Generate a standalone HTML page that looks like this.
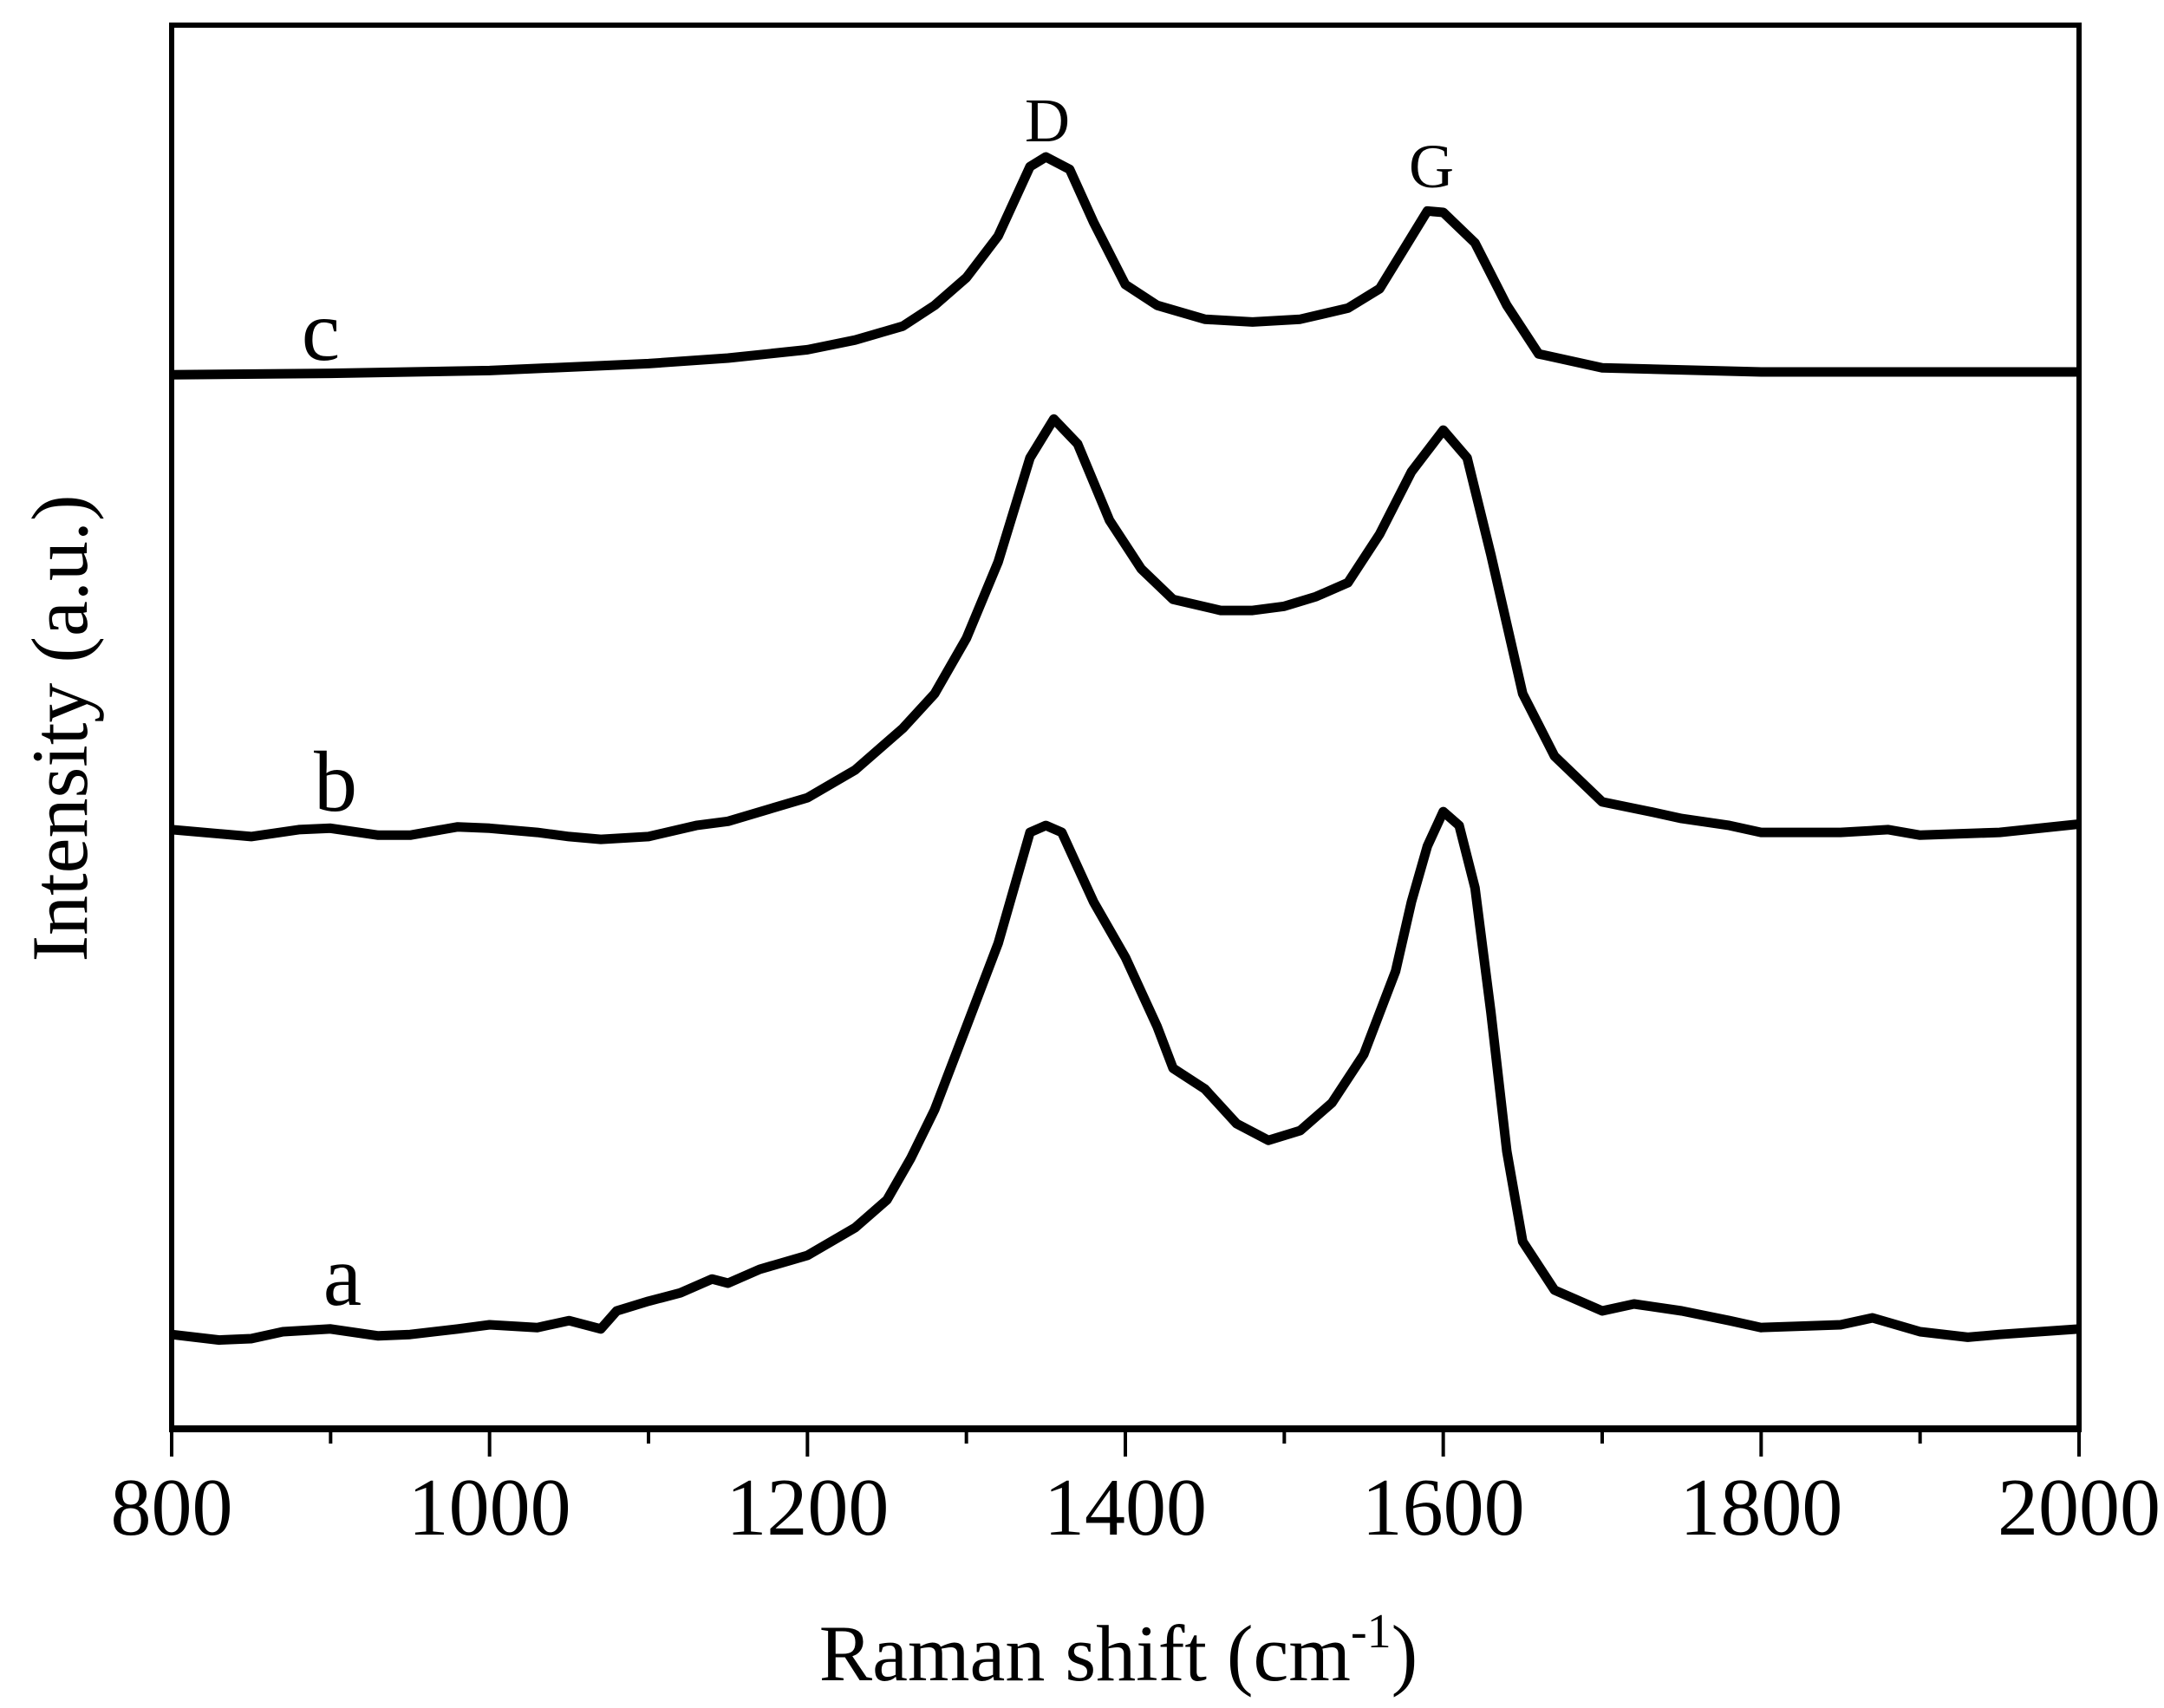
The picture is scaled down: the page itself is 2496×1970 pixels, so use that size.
<!DOCTYPE html>
<html><head><meta charset="utf-8"><style>
html,body{margin:0;padding:0;background:#fff}
svg{display:block}
text{font-family:"Liberation Serif",serif;fill:#000}
</style></head><body>
<svg id="chart" width="2496" height="1970" viewBox="0 0 2496 1970" xmlns="http://www.w3.org/2000/svg">
<g id="plot"></g>
</svg>
<script>
const xTicks=[800,1000,1200,1400,1600,1800,2000];
const xMinor=[900,1100,1300,1500,1700,1900];
const waveA=[800,830,850,870,900,930,950,980,1000,1030,1050,1070,1080,1100,1120,1140,1150,1170,1200,1230,1250,1265,1280,1300,1320,1340,1350,1360,1380,1400,1420,1430,1450,1470,1490,1510,1530,1550,1570,1580,1590,1600,1610,1620,1630,1640,1650,1670,1700,1720,1750,1780,1800,1850,1870,1900,1930,1950,2000];
const yA=[962,966,965,960,958,963,962,958,955,957,952,958,945,938,932,922,925,915,905,885,865,835,800,740,680,600,595,600,650,690,740,770,785,810,822,815,795,760,700,650,610,585,595,640,730,830,895,930,945,940,945,952,957,955,950,960,964,962,958];
const waveB=[800,830,850,880,900,930,950,980,1000,1030,1050,1070,1100,1130,1150,1200,1230,1260,1280,1300,1320,1340,1355,1370,1390,1410,1430,1460,1480,1500,1520,1540,1560,1580,1600,1615,1630,1650,1670,1700,1730,1750,1780,1800,1850,1880,1900,1950,2000];
const yB=[598,601,603,598,597,602,602,596,597,600,603,605,603,595,592,575,555,525,500,460,405,330,302,320,375,410,432,440,440,437,430,420,385,340,310,330,400,500,545,578,585,590,595,600,600,598,602,600,594];
const waveC=[800,900,1000,1100,1150,1200,1230,1260,1280,1300,1320,1340,1350,1365,1380,1400,1420,1450,1480,1510,1540,1560,1575,1590,1600,1620,1640,1660,1700,1800,2000];
const yC=[270,269,267,262,258,252,245,235,220,200,170,120,113,122,160,205,220,230,232,230,222,208,180,152,153,175,220,255,265,268,268];
const intensityA=yA.map(v=>1030-v), intensityB=yB.map(v=>1030-v), intensityC=yC.map(v=>1030-v);
const X0=198,X1=2398,Y0=1648,Y1=29;
const sx=v=>X0+(v-800)/1200*(X1-X0);
const sy=v=>Y0-v/1012*(Y0-Y1);
const NS="http://www.w3.org/2000/svg";
const g=document.getElementById('plot');
function mk(tag,attrs){const e=document.createElementNS(NS,tag);for(const k in attrs)e.setAttribute(k,attrs[k]);g.appendChild(e);return e;}
function series(w,ys,name){
  const d=w.map((v,i)=>(i?'L':'M')+sx(v).toFixed(1)+','+sy(ys[i]).toFixed(1)).join(' ');
  const p=mk('path',{d:d,fill:'none',stroke:'#000','stroke-width':11,'stroke-linejoin':'round'});
  
  
}
series(waveA,intensityA,'spectrum-a');
series(waveB,intensityB,'spectrum-b');
series(waveC,intensityC,'spectrum-c');
const fr=mk('path',{d:`M${X0},${Y0} L${X0},${Y1} L${X1},${Y1} L${X1},${Y0}`,fill:'none',stroke:'#000','stroke-width':6});


const xa=mk('line',{x1:X0-3,x2:X1+3,y1:Y0,y2:Y0,stroke:'#000','stroke-width':8});


xTicks.forEach(v=>{
  const t=mk('line',{x1:sx(v),x2:sx(v),y1:Y0,y2:Y0+32,stroke:'#000','stroke-width':4});
  
  
  const l=mk('text',{x:sx(v),y:1770,'text-anchor':'middle','font-size':94});
  l.textContent=v;
  
  
});
xMinor.forEach(v=>{
  const t=mk('line',{x1:sx(v),x2:sx(v),y1:Y0,y2:Y0+17,stroke:'#000','stroke-width':4});
  
  
});
function label(txt,x,y,size,name){const t=mk('text',{x:x,y:y,'text-anchor':'middle','font-size':size});t.textContent=txt;return t;}
label('D',1208,163,72,'peak-label-d');
label('G',1651,216,72,'peak-label-g');
label('c',370,415,100,'curve-label-c');
label('b',387,935,100,'curve-label-b');
label('a',395,1505,100,'curve-label-a');
const xt=mk('text',{x:1290,y:1938,'text-anchor':'middle','font-size':92});
xt.innerHTML='Raman shift (cm<tspan dy="-38" font-size="56">-1</tspan><tspan dy="38">)</tspan>';


const yt=mk('text',{x:0,y:0,'text-anchor':'middle','font-size':92,transform:'translate(100,840) rotate(-90)'});
yt.textContent='Intensity (a.u.)';


</script>
</body></html>
